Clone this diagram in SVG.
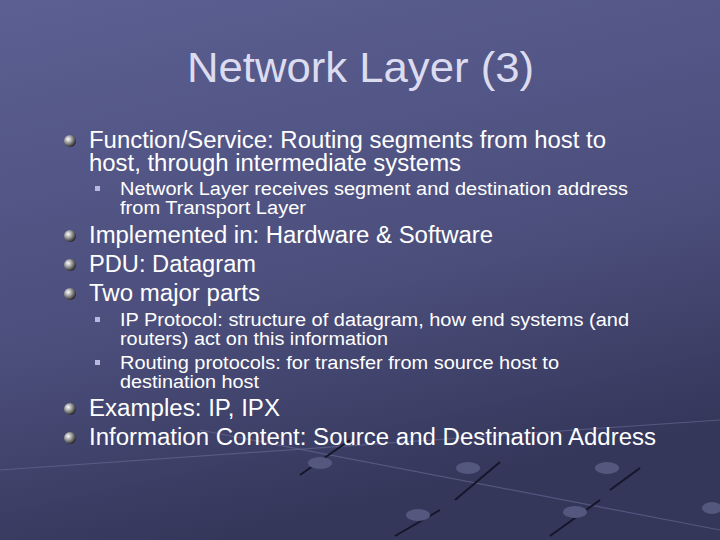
<svg xmlns="http://www.w3.org/2000/svg" width="720" height="540" viewBox="0 0 720 540">
<defs>
<linearGradient id="bg" x1="0" y1="0" x2="0.3" y2="1">
<stop offset="0" stop-color="#5b5f92"/><stop offset="0.6" stop-color="#4c4f7c"/><stop offset="1" stop-color="#34365a"/>
</linearGradient>
<radialGradient id="ball" cx="0.35" cy="0.35" r="0.7">
<stop offset="0" stop-color="#ffffff"/><stop offset="0.5" stop-color="#909090"/><stop offset="1" stop-color="#202020"/>
</radialGradient>
<style>
text{font-family:"Liberation Sans",Arial,sans-serif;fill:#ffffff}
.t{font-size:43px;fill:#dcdcf0}
.m{font-size:23px}
.s{font-size:18px}
.sq{fill:#b8b8e0}
.ln{stroke:#6a6c98;stroke-width:1.2;opacity:0.6}
.dk{stroke:#15162a;stroke-width:2}
</style>
</defs>
<rect width="720" height="540" fill="url(#bg)"/>
<g id="decor">
<line class="ln" x1="0" y1="470" x2="720" y2="420"/>
<line class="ln" x1="200" y1="430" x2="720" y2="530"/>
<line class="dk" x1="300" y1="475" x2="350" y2="440"/>
<line class="dk" x1="395" y1="536" x2="440" y2="510"/>
<line class="dk" x1="455" y1="500" x2="500" y2="462"/>
<line class="dk" x1="550" y1="536" x2="600" y2="500"/>
<line class="dk" x1="610" y1="490" x2="640" y2="468"/>
<ellipse cx="320" cy="463" rx="12" ry="6" fill="#55587e"/>
<ellipse cx="468" cy="468" rx="12" ry="6" fill="#55587e"/>
<ellipse cx="418" cy="515" rx="12" ry="6" fill="#55587e"/>
<ellipse cx="575" cy="512" rx="12" ry="6" fill="#55587e"/>
<ellipse cx="607" cy="468" rx="12" ry="6" fill="#55587e"/>
<ellipse cx="712" cy="508" rx="10" ry="6" fill="#55587e"/>
</g>
<text class="t" x="187" y="82" textLength="347" lengthAdjust="spacingAndGlyphs">Network Layer (3)</text>
<g id="bullets">
<circle cx="70" cy="141" r="6" fill="url(#ball)"/>
<circle cx="70" cy="236" r="6" fill="url(#ball)"/>
<circle cx="70" cy="265" r="6" fill="url(#ball)"/>
<circle cx="70" cy="294" r="6" fill="url(#ball)"/>
<circle cx="70" cy="409" r="6" fill="url(#ball)"/>
<circle cx="70" cy="438" r="6" fill="url(#ball)"/>
<rect class="sq" x="95" y="186" width="5" height="5"/>
<rect class="sq" x="95" y="317" width="5" height="5"/>
<rect class="sq" x="95" y="360" width="5" height="5"/>
</g>
<g id="text">
<text class="m" x="89" y="148" textLength="517" lengthAdjust="spacingAndGlyphs">Function/Service: Routing segments from host to</text>
<text class="m" x="89" y="171" textLength="372" lengthAdjust="spacingAndGlyphs">host, through intermediate systems</text>
<text class="s" x="120" y="195" textLength="508" lengthAdjust="spacingAndGlyphs">Network Layer receives segment and destination address</text>
<text class="s" x="120" y="214" textLength="186" lengthAdjust="spacingAndGlyphs">from Transport Layer</text>
<text class="m" x="89" y="243" textLength="404" lengthAdjust="spacingAndGlyphs">Implemented in: Hardware &amp; Software</text>
<text class="m" x="89" y="272" textLength="167" lengthAdjust="spacingAndGlyphs">PDU: Datagram</text>
<text class="m" x="89" y="301" textLength="171" lengthAdjust="spacingAndGlyphs">Two major parts</text>
<text class="s" x="120" y="326" textLength="509" lengthAdjust="spacingAndGlyphs">IP Protocol: structure of datagram, how end systems (and</text>
<text class="s" x="120" y="345" textLength="268" lengthAdjust="spacingAndGlyphs">routers) act on this information</text>
<text class="s" x="120" y="369" textLength="439" lengthAdjust="spacingAndGlyphs">Routing protocols: for transfer from source host to</text>
<text class="s" x="120" y="388" textLength="139" lengthAdjust="spacingAndGlyphs">destination host</text>
<text class="m" x="89" y="416" textLength="191" lengthAdjust="spacingAndGlyphs">Examples: IP, IPX</text>
<text class="m" x="89" y="445" textLength="567" lengthAdjust="spacingAndGlyphs">Information Content: Source and Destination Address</text>
</g>
</svg>
